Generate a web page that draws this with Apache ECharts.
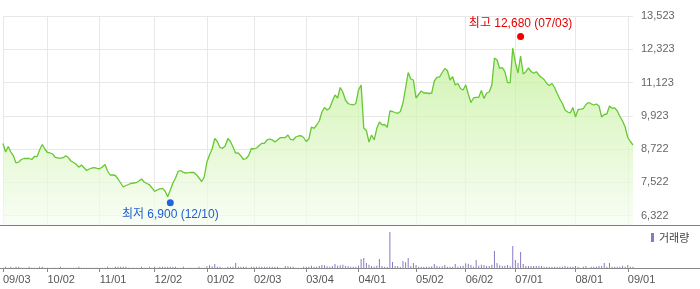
<!DOCTYPE html>
<html><head><meta charset="utf-8">
<script src="https://cdn.jsdelivr.net/npm/echarts@6/dist/echarts.min.js"></script>
<style>html,body{margin:0;padding:0;background:#fff}#c{width:700px;height:289px}</style>
</head><body><div id="c"></div>
<script>
// Trading days (KRX) per month
const tradingMonths = [
  ['2024-09',[3,4,5,6,9,10,11,12,13,19,20,23,24,25,26,27,30]],
  ['2024-10',[2,4,7,8,10,11,14,15,16,17,18,21,22,23,24,25,28,29,30,31]],
  ['2024-11',[1,4,5,6,7,8,11,12,13,14,15,18,19,20,21,22,25,26,27,28,29]],
  ['2024-12',[2,3,4,5,6,9,10,11,12,13,16,17,18,19,20,23,24,26,27,30]],
  ['2025-01',[2,3,6,7,8,9,10,13,14,15,16,17,20,21,22,23,24,31]],
  ['2025-02',[3,4,5,6,7,10,11,12,13,14,17,18,19,20,21,24,25,26,27,28]],
  ['2025-03',[4,5,6,7,10,11,12,13,14,17,18,19,20,21,24,25,26,27,28,31]],
  ['2025-04',[1,2,3,4,7,8,9,10,11,14,15,16,17,18,21,22,23,24,25,28,29,30]],
  ['2025-05',[2,7,8,9,12,13,14,15,16,19,20,21,22,23,26,27,28,29,30]],
  ['2025-06',[2,4,5,9,10,11,12,13,16,17,18,19,20,23,24,25,26,27,30]],
  ['2025-07',[1,2,3,4,7,8,9,10,11,14,15,16,17,18,21,22,23,24,25,28,29,30,31]],
  ['2025-08',[1,4,5,6,7,8,11,12,13,14,18,19,20,21,22,25,26,27,28,29]],
  ['2025-09',[1,2,3]]
];
const dates = [];
tradingMonths.forEach(([ym, days]) => days.forEach(d => dates.push(ym + '-' + String(d).padStart(2, '0'))));

const prices = [
  8925,8619,8817,8619,8475,8222,8258,8348,8384,8392,
  8384,8348,8456,8450,8691,8889,8727,8601,8583,8547,
  8428,8403,8396,8413,8482,8417,8294,8240,8175,8071,
  8150,8049,7952,8006,8042,8053,8024,8013,8078,8168,
  7934,7789,7789,7771,7645,7501,7357,7411,7447,7488,
  7501,7512,7573,7645,7537,7483,7440,7321,7195,7249,
  7292,7306,7213,7007,7249,7501,7681,7916,7952,7880,
  7861,7872,7887,7880,7800,7681,7555,7717,8258,8511,
  8727,9105,8997,8781,8752,8835,9105,8997,8799,8576,
  8590,8475,8348,8384,8493,8745,8727,8763,8853,8932,
  8932,9052,9087,9059,8979,9052,9135,9135,9142,9232,
  9070,9052,9160,9196,9207,9142,8997,9087,9520,9473,
  9592,9736,10061,10223,10133,10205,10458,10674,10566,10945,
  10782,10494,10368,10332,10314,10368,10855,11035,9484,9394,
  8979,9232,9052,9473,9700,9600,9610,9509,10097,10079,
  10043,10014,10079,10386,10927,11486,11251,11215,10566,10692,
  10819,10746,10746,10728,10746,11179,11306,11324,11486,11630,
  11558,11215,11334,11035,11089,10909,10855,11035,10710,10404,
  10566,10592,10592,10837,10548,10746,10782,11035,12009,11936,
  11630,11659,11515,11118,11118,12369,11846,11468,12081,11432,
  11515,11648,11522,11457,11515,11396,11306,11233,11089,11017,
  11089,10945,10728,10530,10368,10133,10061,10025,10223,9881,
  10151,10162,10187,10332,10404,10357,10314,10350,10278,9881,
  9971,9989,10278,10195,10213,10097,9899,9736,9520,9142,
  8997,8871
];

const volumes = [
  20,130,20,130,20,130,130,20,20,20,
  130,20,20,20,130,130,20,20,20,20,
  20,20,130,20,20,20,20,20,20,130,
  20,20,20,20,20,20,20,20,20,20,
  130,20,20,130,130,130,130,130,20,20,
  20,20,20,130,20,20,130,20,130,20,
  130,130,130,130,130,130,130,20,20,130,
  20,20,20,20,20,130,20,20,170,270,
  170,400,130,130,20,20,130,130,130,500,
  130,130,130,130,20,130,130,130,130,130,
  130,130,130,130,130,130,20,20,200,170,
  130,130,20,20,20,130,130,130,230,130,
  130,200,300,270,170,130,200,400,230,270,
  330,200,200,130,130,130,230,900,1000,500,
  330,200,130,230,900,200,130,100,3600,600,
  200,200,100,700,570,1000,200,500,300,130,
  130,130,130,130,170,400,200,130,170,300,
  130,130,130,400,130,170,230,470,430,300,
  130,800,230,330,300,200,200,330,1700,500,
  270,200,230,300,170,2200,800,500,1600,400,
  200,200,200,200,200,200,200,130,130,130,
  130,130,130,130,130,200,130,130,130,200,
  130,20,130,200,20,130,130,130,200,200,
  500,130,500,130,130,130,130,230,130,300,
  130,130
];

const tickDates = ['2024-09-03','2024-10-02','2024-11-01','2024-12-02','2025-01-02','2025-02-03',
  '2025-03-04','2025-04-01','2025-05-02','2025-06-02','2025-07-01','2025-08-01','2025-09-01'];
const priceTicks = [6322, 7522, 8722, 9923, 11123, 12323, 13523];
const highPoint = ['2025-07-03', 12680];
const lowPoint = ['2024-12-10', 6900];

const FONT = '"Liberation Sans", Arial, "Noto Sans CJK KR", sans-serif';
const tickSet = new Set(tickDates);
const isTick = (i, v) => tickSet.has(v);
const md = d => d.slice(5).replace('-', '/');
const fmt = v => v.toLocaleString('en-US');

const chart = echarts.init(document.getElementById('c'), null, {renderer: 'canvas'});
chart.setOption({
  animation: false,
  backgroundColor: '#fff',
  textStyle: {fontFamily: FONT},
  grid: [
    {left: 3, right: 67, top: 16, height: 209},
    {left: 3, right: 67, top: 226, height: 42}
  ],
  legend: {
    data: ['거래량'], left: 651, top: 232, icon: 'rect', itemWidth: 3, itemHeight: 9,
    padding: 0, selectedMode: false,
    textStyle: {fontSize: 11, color: '#444', fontFamily: '"Noto Sans CJK KR", sans-serif'}
  },
  xAxis: [
    {gridIndex: 0, type: 'category', data: dates, boundaryGap: false,
     axisLine: {show: false}, axisTick: {show: false}, axisLabel: {show: false},
     splitLine: {show: true, interval: isTick, lineStyle: {color: '#e8e8e8', width: 1}}},
    {gridIndex: 1, type: 'category', data: dates, boundaryGap: false,
     axisLine: {show: false},
     axisTick: {show: true, interval: isTick, length: 4, lineStyle: {color: '#888'}},
     axisLabel: {interval: isTick, formatter: v => md(v), align: 'left', margin: 6, fontSize: 11, color: '#555'},
     splitLine: {show: false}}
  ],
  yAxis: [
    {gridIndex: 0, type: 'value', position: 'right', min: 5986, max: 13523,
     axisLine: {show: false}, axisTick: {show: false, customValues: priceTicks},
     axisLabel: {customValues: priceTicks, formatter: v => fmt(v), fontSize: 11, color: '#666', margin: 8},
     splitLine: {show: true, lineStyle: {color: '#e8e8e8'}}},
    {gridIndex: 1, type: 'value', min: 0, max: 4200, show: false}
  ],
  graphic: [
    {type: 'line', shape: {x1: 0, y1: 225.5, x2: 700, y2: 225.5}, style: {stroke: '#7d7d85', lineWidth: 1}, silent: true},
    {type: 'line', shape: {x1: 0, y1: 268.5, x2: 700, y2: 268.5}, style: {stroke: '#888', lineWidth: 1}, silent: true}
  ],
  series: [
    {name: '주가', type: 'line', xAxisIndex: 0, yAxisIndex: 0, data: prices,
     symbol: 'none', showSymbol: false,
     lineStyle: {color: '#66c832', width: 1.3},
     areaStyle: {color: new echarts.graphic.LinearGradient(0, 0, 0, 1, [
       {offset: 0, color: '#bdee8e'}, {offset: 1, color: '#f5fdf0'}])},
     markPoint: {
       symbol: 'circle', symbolSize: 7, silent: true,
       data: [
         {coord: highPoint, symbolOffset: [0, -3], itemStyle: {color: '#ee0000'},
          label: {show: true, position: 'top', distance: 3, color: '#e60000', fontSize: 12,
                  fontFamily: FONT, formatter: '최고 ' + fmt(highPoint[1]) + ' (' + md(highPoint[0]) + ')'}},
         {coord: lowPoint, symbolOffset: [0, 3], itemStyle: {color: '#1f66dd'},
          label: {show: true, position: 'bottom', distance: 3, color: '#1f5fd0', fontSize: 12,
                  fontFamily: FONT, formatter: '최저 ' + fmt(lowPoint[1]) + ' (' + md(lowPoint[0]) + ')'}}
       ]
     }},
    {name: '거래량', type: 'bar', xAxisIndex: 1, yAxisIndex: 1, data: volumes,
     barWidth: 1, itemStyle: {color: '#8a78c8'}}
  ]
});
</script></body></html>
